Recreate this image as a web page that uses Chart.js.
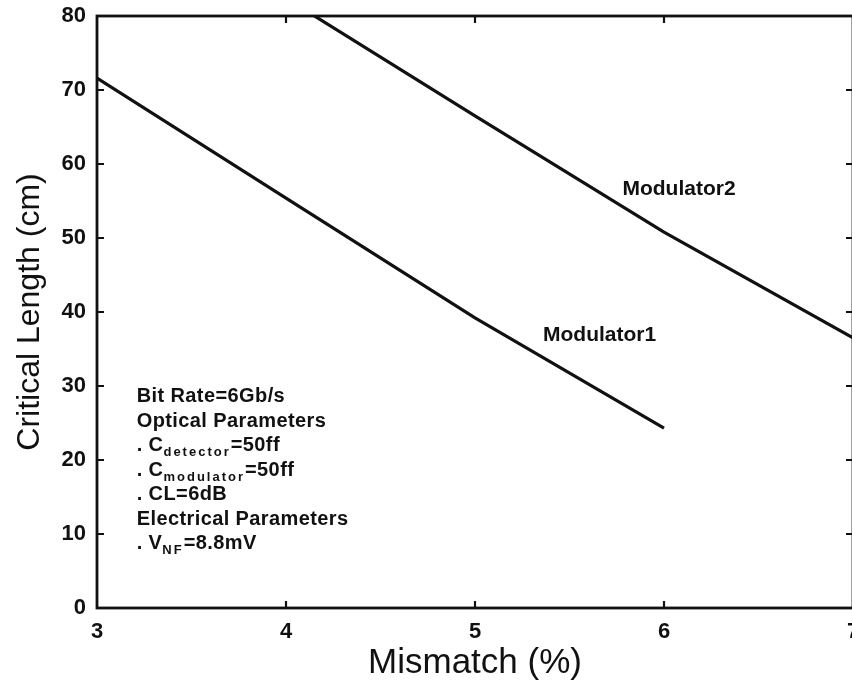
<!DOCTYPE html>
<html lang="en">
<head>
  <meta charset="UTF-8" />
  <title>Critical Length vs Mismatch</title>
  <script src="https://cdn.jsdelivr.net/npm/chart.js"></script>
  <style>
    html, body {
      margin: 0;
      padding: 0;
      background: #fff;
      overflow: hidden;
    }
    canvas {
      display: block;
    }
  </style>
</head>
<body>
  <canvas id="lengthChart" width="862" height="683"></canvas>

  <script>
    // mismatch (%) and critical length (cm) for each modulator
    const mismatch1 = [3, 4, 5, 6];
    const modulator1 = [71.6, 55.4, 39.2, 24.3];
    const mismatch2 = [4, 5, 6, 7];
    const modulator2 = [82.4, 66.5, 50.8, 36.5];

    const xTicks = [3, 4, 5, 6, 7];
    const yTicks = [0, 10, 20, 30, 40, 50, 60, 70, 80];

    const FAMILY = '"Liberation Sans", Arial, sans-serif';

    const toPoints = (xs, ys) => xs.map((x, i) => ({ x: x, y: ys[i] }));
    const boldFont = size => 'bold ' + size + 'px ' + FAMILY;

    // keep the plot box where the layout padding puts it
    const noEdgePadding = s => {
      s.paddingTop = 0;
      s.paddingBottom = 0;
      s.paddingLeft = 0;
      s.paddingRight = 0;
    };

    // box around the plot with short inward ticks on all four sides
    const frame = {
      id: 'frame',
      afterDatasetsDraw(chart) {
        const { ctx, chartArea: a, scales: { x, y } } = chart;
        const len = 7;
        ctx.save();
        ctx.strokeStyle = '#111';
        ctx.lineWidth = 2.8;
        ctx.strokeRect(a.left, a.top, a.right - a.left, a.bottom - a.top);
        ctx.lineWidth = 2.2;
        ctx.beginPath();
        xTicks.slice(1, -1).forEach(v => {
          const px = x.getPixelForValue(v);
          ctx.moveTo(px, a.bottom); ctx.lineTo(px, a.bottom - len);
          ctx.moveTo(px, a.top); ctx.lineTo(px, a.top + len);
        });
        yTicks.slice(1, -1).forEach(v => {
          const py = y.getPixelForValue(v);
          ctx.moveTo(a.left, py); ctx.lineTo(a.left + len, py);
          ctx.moveTo(a.right, py); ctx.lineTo(a.right - len, py);
        });
        ctx.stroke();
        ctx.restore();
      }
    };

    // curve names and the parameter notes, with subscripts
    const noteLines = [
      [['Bit Rate=6Gb/s']],
      [['Optical Parameters']],
      [['. C'], ['detector', 'sub'], ['=50ff']],
      [['. C'], ['modulator', 'sub'], ['=50ff']],
      [['. CL=6dB']],
      [['Electrical Parameters']],
      [['. V'], ['NF', 'sub'], ['=8.8mV']]
    ];

    const notes = {
      id: 'notes',
      afterDraw(chart) {
        const { ctx, scales: { x, y } } = chart;
        ctx.save();
        ctx.fillStyle = '#111';
        ctx.textBaseline = 'alphabetic';
        ctx.textAlign = 'left';

        ctx.font = boldFont(21);
        ctx.fillText('Modulator2', x.getPixelForValue(5.78), y.getPixelForValue(55.8));
        ctx.fillText('Modulator1', x.getPixelForValue(5.36), y.getPixelForValue(36.1));

        const left = x.getPixelForValue(3.21);
        let base = y.getPixelForValue(27.8);
        noteLines.forEach(line => {
          let px = left;
          line.forEach(([text, kind]) => {
            if (kind === 'sub') {
              ctx.font = boldFont(13);
              ctx.letterSpacing = '2px';
              ctx.fillText(text, px, base + 5);
            } else {
              ctx.font = boldFont(20);
              ctx.letterSpacing = '0.4px';
              ctx.fillText(text, px, base);
            }
            px += ctx.measureText(text).width;
          });
          base += 24.5;
        });
        ctx.restore();
      }
    };

    new Chart(document.getElementById('lengthChart'), {
      type: 'scatter',
      data: {
        datasets: [
          {
            label: 'Modulator1',
            data: toPoints(mismatch1, modulator1),
            showLine: true,
            borderColor: '#111',
            borderWidth: 3.2,
            pointRadius: 0,
            clip: 0
          },
          {
            label: 'Modulator2',
            data: toPoints(mismatch2, modulator2),
            showLine: true,
            borderColor: '#111',
            borderWidth: 3.2,
            pointRadius: 0,
            clip: 0
          }
        ]
      },
      options: {
        responsive: false,
        animation: false,
        devicePixelRatio: 1,
        layout: { padding: { top: 16, right: 9, left: 0, bottom: 0 } },
        plugins: {
          legend: { display: false },
          tooltip: { enabled: false }
        },
        scales: {
          x: {
            type: 'linear',
            min: 3,
            max: 7,
            afterFit: s => { s.height = 75; noEdgePadding(s); },
            afterBuildTicks: s => { s.ticks = xTicks.map(v => ({ value: v })); },
            grid: { display: false },
            border: { display: false },
            ticks: {
              color: '#111',
              padding: 3,
              maxRotation: 0,
              font: { family: FAMILY, size: 22, weight: 'bold' }
            },
            title: {
              display: true,
              text: 'Mismatch (%)',
              color: '#111',
              padding: { top: 0, bottom: 2 },
              font: { family: FAMILY, size: 35, lineHeight: 1 }
            }
          },
          y: {
            type: 'linear',
            min: 0,
            max: 80,
            afterFit: s => { s.width = 97; noEdgePadding(s); },
            afterBuildTicks: s => { s.ticks = yTicks.map(v => ({ value: v })); },
            grid: { display: false },
            border: { display: false },
            ticks: {
              color: '#111',
              padding: 3,
              font: { family: FAMILY, size: 22, weight: 'bold' }
            },
            title: {
              display: true,
              text: 'Critical Length (cm)',
              color: '#111',
              padding: { top: 14, bottom: 0 },
              font: { family: FAMILY, size: 32, lineHeight: 1 }
            }
          }
        }
      },
      plugins: [frame, notes]
    });
  </script>
</body>
</html>
